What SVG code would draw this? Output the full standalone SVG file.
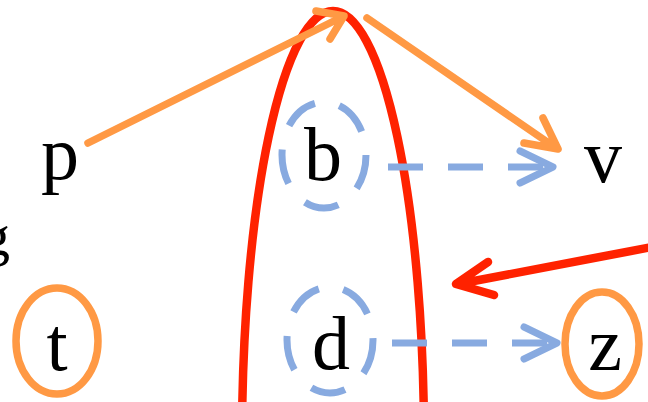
<svg xmlns="http://www.w3.org/2000/svg" width="648" height="402" viewBox="0 0 648 402">
<style>
.lbl{font-family:"Liberation Serif","Times New Roman",serif;font-size:76px;fill:#000;text-anchor:middle}
.or{fill:none;stroke:#ff9944;stroke-width:7.5;stroke-linecap:round;stroke-linejoin:round}
.bld{fill:none;stroke:#88aae0;stroke-width:7;stroke-dasharray:35 25}
.blh{fill:none;stroke:#88aae0;stroke-width:7;stroke-linecap:round;stroke-linejoin:round}
.rd{fill:none;stroke:#ff2200;stroke-width:8.5;stroke-linecap:round;stroke-linejoin:round}
</style>
<rect width="648" height="402" fill="#fff"/>
<g id="p"><text class="lbl" x="60" y="179">p</text></g>
<g id="b"><ellipse class="bld" cx="324" cy="155" rx="42" ry="53"/><text class="lbl" x="323" y="180">b</text></g>
<g id="v"><text class="lbl" x="603" y="182">v</text></g>
<g id="g"><text x="-19" y="255" style="font-family:'Liberation Serif','Times New Roman',serif;font-size:58px">g</text></g>
<g id="t"><ellipse class="or" cx="57" cy="341" rx="41" ry="53"/><text class="lbl" x="57" y="370">t</text></g>
<g id="d"><ellipse class="bld" cx="330" cy="340" rx="43" ry="53"/><text class="lbl" x="331" y="369">d</text></g>
<g id="z"><ellipse class="or" cx="602" cy="344" rx="37" ry="52"/><text class="lbl" x="605" y="370">z</text></g>
<g id="region"><ellipse class="rd" cx="333" cy="440" rx="91" ry="429"/></g>
<g id="connectors">
<path class="or" d="M88,143 L342,17 M316,11 L344,16 L330,39"/>
<path class="or" d="M367,18 L556,148 M543,118 L558,149 L524,143"/>
<path class="bld" d="M388,167 L548,167"/>
<path class="blh" d="M520,151 L553,167 L520,183"/>
<path class="bld" d="M392,343 L548,343"/>
<path class="blh" d="M524,327 L557,343 L524,359"/>
<path class="rd" d="M652,247 L458,284 M488,262 L456,284 L494,295"/>
</g>
</svg>
